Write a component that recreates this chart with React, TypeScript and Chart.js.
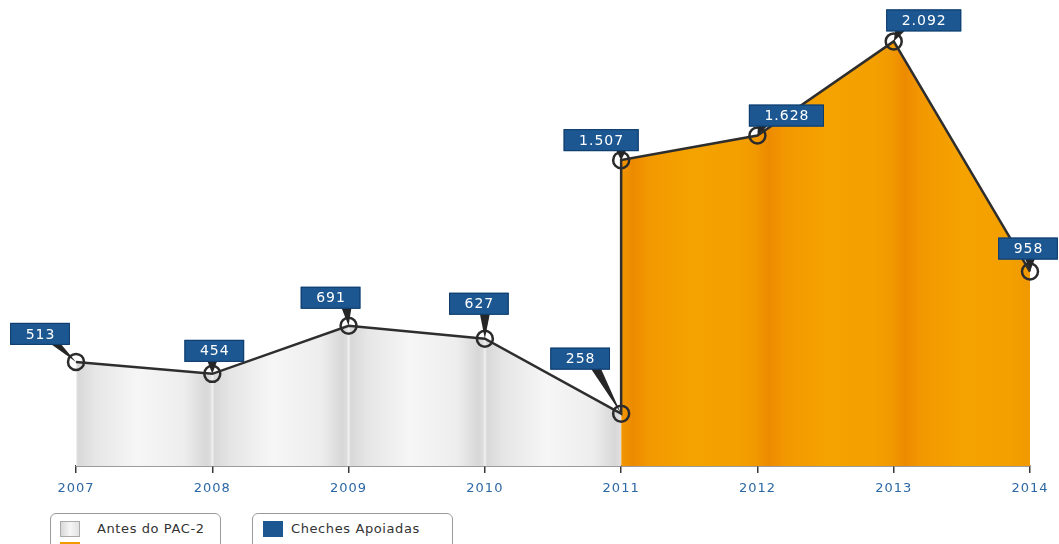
import React, { useEffect, useRef } from "react";
import { Chart, registerables } from "chart.js";

Chart.register(...registerables);

const YEARS = ["2007", "2008", "2009", "2010", "2011", "2012", "2013", "2014"];
const BEFORE_VALUES = [513, 454, 691, 627, 258]; // 2007 - 2011 (Antes do PAC-2)
const AFTER_VALUES = [1507, 1628, 2092, 958]; // 2011 - 2014
const AFTER_START = 4; // index of 2011
const LEGEND_LABELS = ["Antes do PAC-2", "Depois do PAC-2", "Cheches Apoiadas"];
const LABEL_OFFSETS = [
  [-36, -28], [2, -23], [-18, -28], [-6, -35], [-41, -55],
  [-20, -20], [29, -20], [30, -21], [-2, -23],
];

const FONT = '"DejaVu Sans", "Open Sans", sans-serif';

const fmt = (v: number) => String(v).replace(/\B(?=(\d{3})+(?!\d))/g, ".");

const beforePts = BEFORE_VALUES.map((v, i) => ({ x: i, y: v }));
const afterPts = AFTER_VALUES.map((v, i) => ({ x: AFTER_START + i, y: v }));
const linePts = [...beforePts, ...afterPts];

function grayGradient(chart: any) {
  const area = chart.chartArea;
  const xs = chart.scales.x;
  if (!area || !xs) return "#eeeeee";
  const W = chart.width;
  const g = chart.ctx.createLinearGradient(0, 0, W, 0);
  const add = (px: number, c: string) => g.addColorStop(Math.min(1, Math.max(0, px / W)), c);
  for (let i = 0; i < AFTER_START; i++) {
    const a = xs.getPixelForValue(i);
    const b = xs.getPixelForValue(i + 1);
    const w = b - a;
    add(a, "#f2f2f2");
    add(a + 2, "#d8d8d8");
    add(a + 0.14 * w, "#e6e6e6");
    add(a + 0.45 * w, "#f6f6f6");
    add(a + 0.8 * w, "#ededed");
    add(b - 6, "#d7d7d7");
    add(b - 1.5, "#dedede");
  }
  return g;
}

function orangeGradient(chart: any) {
  const area = chart.chartArea;
  const xs = chart.scales.x;
  if (!area || !xs) return "#f39c00";
  const W = chart.width;
  const g = chart.ctx.createLinearGradient(0, 0, W, 0);
  const add = (px: number, c: string) => g.addColorStop(Math.min(1, Math.max(0, px / W)), c);
  const last = YEARS.length - 1;
  for (let i = AFTER_START; i < last; i++) {
    const a = xs.getPixelForValue(i);
    const b = xs.getPixelForValue(i + 1);
    const w = b - a;
    add(a + 0.5, "#f19500");
    add(a + 11, "#ed8b00");
    add(a + 28, "#f29800");
    add(a + 0.5 * w, "#f5a300");
    add(a + 0.85 * w, "#f3a000");
    add(b - 1, "#f19900");
  }
  add(xs.getPixelForValue(last), "#f39a00");
  return g;
}

const labelPlugin = {
  id: "valueLabels",
  afterDatasetsDraw(chart: any) {
    const meta = chart.getDatasetMeta(0);
    const ctx = chart.ctx;
    ctx.save();
    ctx.font = `14px ${FONT}`;
    (ctx as any).letterSpacing = "1px";
    meta.data.forEach((pt: any, i: number) => {
      const v = linePts[i].y;
      const txt = fmt(v);
      const tw = ctx.measureText(txt).width;
      const w = tw + 30;
      const h = 22;
      const off = LABEL_OFFSETS[i] || [0, -25];
      const cx = pt.x + off[0];
      const cy = pt.y + off[1];
      const left = cx - w / 2;
      const top = cy - h / 2;
      const baseY = top + h - 1;
      const bx = Math.min(Math.max(pt.x, left + 14), left + w - 14);
      ctx.beginPath();
      ctx.moveTo(bx - 5, baseY);
      ctx.lineTo(bx + 5, baseY);
      ctx.lineTo(pt.x, pt.y);
      ctx.closePath();
      ctx.fillStyle = "#262626";
      ctx.fill();
      ctx.fillStyle = "#1c5791";
      ctx.strokeStyle = "#0e3b6a";
      ctx.lineWidth = 1;
      ctx.fillRect(left, top, w, h);
      ctx.strokeRect(left + 0.5, top + 0.5, w - 1, h - 1);
      ctx.fillStyle = "#ffffff";
      ctx.textAlign = "left";
      ctx.textBaseline = "middle";
      ctx.fillText(txt, cx - tw / 2 + 0.5, cy + 1);
    });
    ctx.restore();
  },
};

const spacingPlugin = {
  id: "letterSpacing",
  beforeDraw(chart: any) {
    (chart.ctx as any).letterSpacing = "1px";
  },
};

export default function App() {
  const ref = useRef<HTMLCanvasElement | null>(null);

  useEffect(() => {
    if (!ref.current) return;
    const chart = new Chart(ref.current, {
      type: "line",
      data: {
        datasets: [
          {
            label: LEGEND_LABELS[2],
            data: linePts,
            borderColor: "#2e2e2e",
            borderWidth: 2.5,
            fill: false,
            tension: 0,
            pointRadius: 8,
            pointBorderWidth: 2.5,
            pointBorderColor: "#2b2b2b",
            pointBackgroundColor: "rgba(0,0,0,0)",
            clip: false,
          },
          {
            label: LEGEND_LABELS[0],
            data: beforePts,
            borderWidth: 0,
            pointRadius: 0,
            fill: "origin",
            backgroundColor: (c: any) => grayGradient(c.chart),
          },
          {
            label: LEGEND_LABELS[1],
            data: afterPts,
            borderWidth: 0,
            pointRadius: 0,
            fill: "origin",
            backgroundColor: (c: any) => orangeGradient(c.chart),
          },
        ],
      },
      options: {
        responsive: false,
        animation: false,
        layout: { autoPadding: false, padding: { left: 76, right: 29, top: 0, bottom: 0 } },
        plugins: { legend: { display: false }, tooltip: { enabled: false } },
        scales: {
          x: {
            type: "linear",
            min: 0,
            max: YEARS.length - 1,
            afterFit(scale: any) {
              scale.height = 78;
            },
            border: { display: true, color: "#3a3a3a", width: 1.5 },
            grid: {
              display: true,
              drawOnChartArea: false,
              drawTicks: true,
              tickLength: 7,
              color: "#3a3a3a",
              lineWidth: 1.5,
            },
            ticks: {
              stepSize: 1,
              autoSkip: false,
              maxRotation: 0,
              padding: 8,
              color: "#2c68a4",
              font: { family: FONT, size: 13 },
              callback: (v: any) => YEARS[v] ?? "",
            },
          },
          y: {
            display: false,
            min: 0,
            max: 2296,
          },
        },
      },
      plugins: [spacingPlugin, labelPlugin],
    });
    return () => chart.destroy();
  }, []);

  const boxStyle: React.CSSProperties = {
    position: "absolute",
    top: 513,
    height: 50,
    border: "1px solid #9a9a9a",
    borderRadius: 6,
    background: "#ffffff",
    boxSizing: "border-box",
  };
  const textStyle: React.CSSProperties = {
    position: "absolute",
    fontFamily: FONT,
    fontSize: 13,
    letterSpacing: "0.6px",
    color: "#333333",
    whiteSpace: "nowrap",
    lineHeight: "16px",
  };

  return (
    <div
      style={{
        position: "fixed",
        left: 0,
        top: 0,
        width: 1059,
        height: 544,
        overflow: "hidden",
        background: "#ffffff",
      }}
    >
      <canvas ref={ref} width={1059} height={544} style={{ position: "absolute", left: 0, top: 0 }} />
      <div style={{ ...boxStyle, left: 50, width: 171 }}>
        <div
          style={{
            position: "absolute",
            left: 9,
            top: 7,
            width: 20,
            height: 16,
            boxSizing: "border-box",
            border: "1px solid #aaaaaa",
            background: "linear-gradient(90deg,#d8d8d8,#f6f6f6 50%,#e2e2e2)",
          }}
        />
        <div style={{ ...textStyle, left: 46, top: 7 }}>{LEGEND_LABELS[0]}</div>
        <div
          style={{
            position: "absolute",
            left: 9,
            top: 28,
            width: 20,
            height: 16,
            background: "#f09a00",
          }}
        />
        <div style={{ ...textStyle, left: 46, top: 28 }}>{LEGEND_LABELS[1]}</div>
      </div>
      <div style={{ ...boxStyle, left: 252, width: 201 }}>
        <div
          style={{
            position: "absolute",
            left: 10,
            top: 7,
            width: 20,
            height: 16,
            background: "#1c5791",
          }}
        />
        <div style={{ ...textStyle, left: 38, top: 7 }}>{LEGEND_LABELS[2]}</div>
      </div>
    </div>
  );
}
